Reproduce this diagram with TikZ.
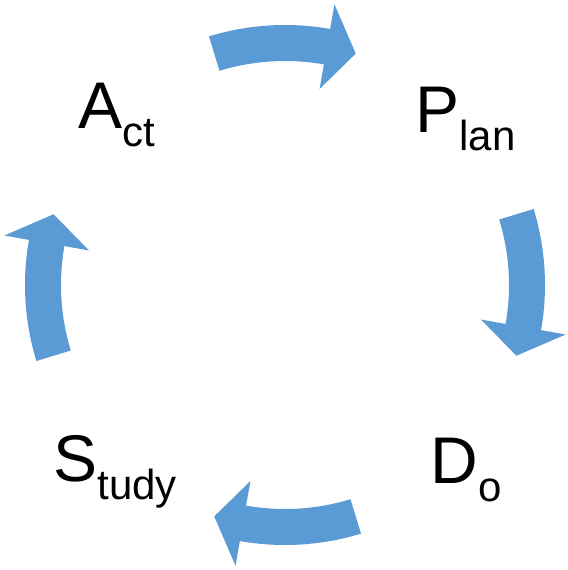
\documentclass[tikz,border=0pt]{standalone}
\usepackage{fontspec}
\setmainfont{Liberation Sans}
\definecolor{cycleblue}{RGB}{91,155,213}
% small lowered tail after the capital letter
\newcommand{\phasesub}[1]{\raisebox{-9pt}{\fontsize{21}{21}\selectfont #1}}
\begin{document}
\begin{tikzpicture}[
    x=0.5pt, y=0.5pt,
    turn/.style={fill=cycleblue},
    phase/.style={anchor=base west, inner sep=0pt, font=\fontsize{33}{33}\selectfont}
]
\useasboundingbox (-285,-285) rectangle (283,285);

% curved block arrows, clockwise round the centre
\foreach \a in {90,0,-90,180}
    \fill[turn] (\a+17:260) arc[start angle=\a+17, end angle=\a-10, radius=260]
        -- (\a-10:285) -- (\a-17:242) -- (\a-10:199) -- (\a-10:224)
        arc[start angle=\a-10, end angle=\a+17, radius=224] -- cycle;

\node[phase] (act) at (-207,157) {A\phasesub{ct}};
\node[phase] (plan) at (130,153) {P\phasesub{lan}};
\node[phase] (do) at (145,-198) {D\phasesub{o}};
\node[phase] (study) at (-232,-196) {S\phasesub{tudy}};
\end{tikzpicture}
\end{document}
